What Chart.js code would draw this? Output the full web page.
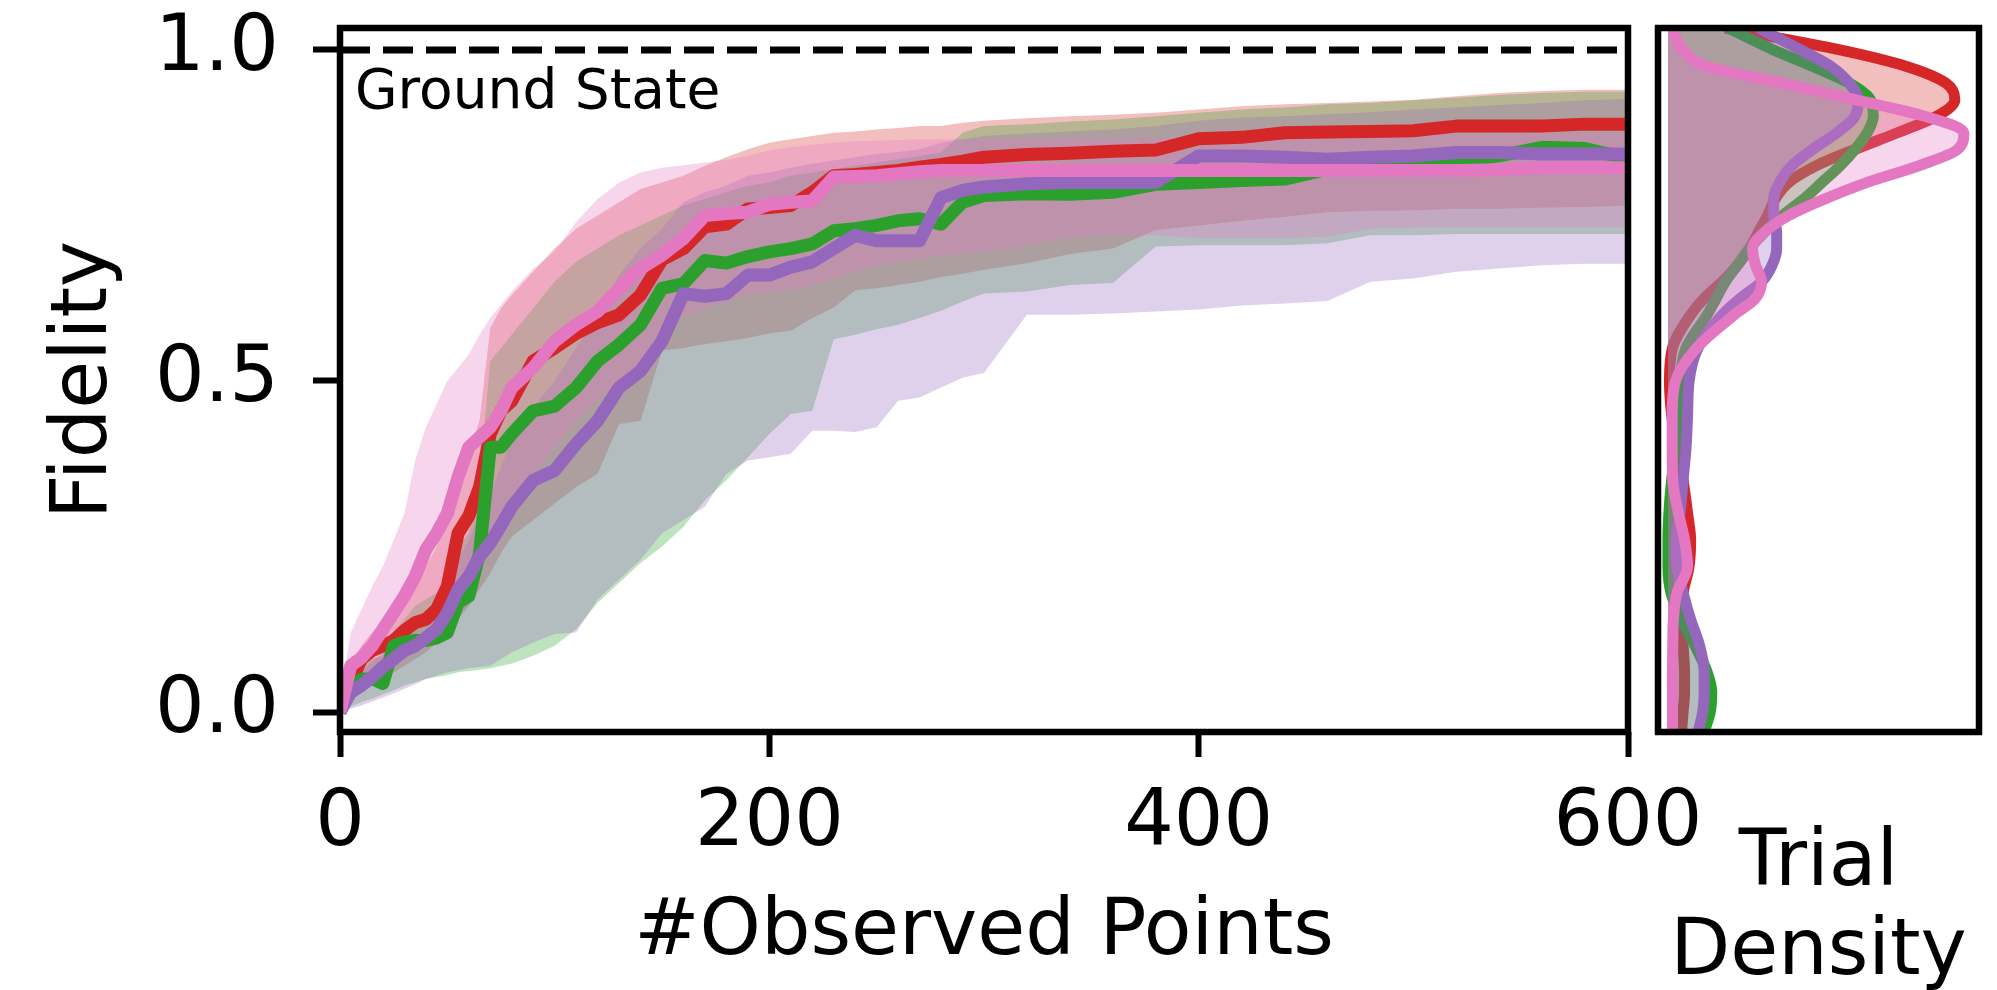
<!DOCTYPE html>
<html>
<head>
<meta charset="utf-8">
<script src="https://cdn.jsdelivr.net/npm/chart.js@4.4.1/dist/chart.umd.min.js"></script>
<style>
  html, body { margin: 0; padding: 0; background: #fff; overflow: hidden; }
  #wrap { position: relative; width: 1997px; height: 990px; }
  canvas { position: absolute; top: 0; }
  #mainChart { left: 0; }
  #sideChart { left: 1645px; }
</style>
</head>
<body>
<div id="wrap">
  <canvas id="mainChart" width="1997" height="990"></canvas>
  <canvas id="sideChart" width="352" height="990"></canvas>
</div>
<script>
// number of observed points
const xs = [0, 5, 10, 15, 20, 25, 30, 35, 40, 45, 50, 55, 60, 65, 70, 75, 80,
  90, 100, 110, 120, 130, 140, 150, 160, 170, 180, 190, 200, 210, 220, 230, 240, 250, 260, 270, 280, 290, 300,
  320, 340, 360, 380, 400, 420, 440, 460, 480, 500, 520, 540, 560, 580, 600];

// mean fidelity curves
const redMean = [0.0, 0.045, 0.08, 0.093, 0.10, 0.108, 0.123, 0.135, 0.14, 0.155, 0.19, 0.27, 0.296, 0.34, 0.42, 0.455, 0.47,
  0.53, 0.55, 0.572, 0.588, 0.60, 0.63, 0.683, 0.70, 0.733, 0.737, 0.76, 0.762, 0.765, 0.785, 0.81, 0.812, 0.815, 0.818, 0.823, 0.827, 0.832, 0.838,
  0.842, 0.844, 0.847, 0.849, 0.866, 0.868, 0.875, 0.876, 0.877, 0.878, 0.885, 0.885, 0.885, 0.888, 0.888];
const greenMean = [0.0, 0.035, 0.05, 0.05, 0.043, 0.10, 0.106, 0.108, 0.108, 0.112, 0.12, 0.165, 0.175, 0.24, 0.40, 0.40, 0.42,
  0.455, 0.462, 0.49, 0.53, 0.555, 0.585, 0.64, 0.647, 0.682, 0.678, 0.688, 0.695, 0.70, 0.707, 0.727, 0.73, 0.735, 0.742, 0.745, 0.737, 0.77, 0.78,
  0.783, 0.782, 0.785, 0.797, 0.80, 0.803, 0.805, 0.82, 0.828, 0.83, 0.832, 0.84, 0.853, 0.851, 0.836];
const purpleMean = [0.0, 0.03, 0.04, 0.053, 0.068, 0.08, 0.093, 0.10, 0.112, 0.125, 0.15, 0.185, 0.205, 0.235, 0.255, 0.282, 0.31,
  0.35, 0.365, 0.405, 0.44, 0.49, 0.515, 0.56, 0.632, 0.628, 0.632, 0.66, 0.66, 0.672, 0.68, 0.70, 0.72, 0.712, 0.712, 0.712, 0.777, 0.788, 0.793,
  0.798, 0.80, 0.80, 0.80, 0.84, 0.84, 0.838, 0.835, 0.838, 0.84, 0.845, 0.845, 0.843, 0.843, 0.843];
const pinkMean = [0.0, 0.07, 0.082, 0.10, 0.125, 0.15, 0.175, 0.205, 0.245, 0.27, 0.30, 0.355, 0.40, 0.415, 0.43, 0.455, 0.49,
  0.52, 0.56, 0.585, 0.605, 0.64, 0.67, 0.69, 0.715, 0.75, 0.753, 0.755, 0.767, 0.77, 0.772, 0.808, 0.809, 0.81, 0.813, 0.816, 0.818, 0.818, 0.818,
  0.818, 0.818, 0.818, 0.818, 0.818, 0.818, 0.818, 0.818, 0.818, 0.818, 0.818, 0.819, 0.822, 0.822, 0.822];

// shaded bands (lower / upper)
const redLow = [0.0, 0.015, 0.03, 0.04, 0.05, 0.06, 0.07, 0.08, 0.09, 0.105, 0.12, 0.14, 0.16, 0.185, 0.21, 0.24, 0.265,
  0.29, 0.315, 0.34, 0.36, 0.435, 0.44, 0.546, 0.55, 0.556, 0.56, 0.565, 0.572, 0.576, 0.595, 0.611, 0.637, 0.64, 0.645, 0.65, 0.657, 0.662, 0.668,
  0.678, 0.692, 0.70, 0.728, 0.735, 0.742, 0.748, 0.755, 0.757, 0.758, 0.76, 0.76, 0.762, 0.763, 0.765];
const redHigh = [0.01, 0.07, 0.10, 0.12, 0.14, 0.16, 0.18, 0.20, 0.22, 0.25, 0.29, 0.34, 0.39, 0.44, 0.58, 0.61, 0.63,
  0.665, 0.70, 0.73, 0.75, 0.77, 0.79, 0.80, 0.81, 0.825, 0.838, 0.85, 0.86, 0.865, 0.87, 0.875, 0.877, 0.88, 0.882, 0.885, 0.885, 0.89, 0.893,
  0.897, 0.90, 0.902, 0.905, 0.91, 0.915, 0.918, 0.92, 0.922, 0.925, 0.93, 0.935, 0.938, 0.94, 0.94];
const greenLow = [0.0, 0.008, 0.015, 0.02, 0.027, 0.033, 0.04, 0.045, 0.05, 0.053, 0.056, 0.06, 0.062, 0.064, 0.066, 0.07, 0.073,
  0.085, 0.10, 0.125, 0.165, 0.195, 0.225, 0.25, 0.28, 0.32, 0.35, 0.385, 0.42, 0.45, 0.455, 0.563, 0.57, 0.578, 0.585, 0.595, 0.606, 0.62, 0.632,
  0.635, 0.645, 0.648, 0.703, 0.705, 0.705, 0.705, 0.708, 0.72, 0.72, 0.722, 0.722, 0.722, 0.722, 0.722];
const greenHigh = [0.005, 0.05, 0.07, 0.08, 0.085, 0.12, 0.14, 0.16, 0.17, 0.18, 0.20, 0.25, 0.27, 0.35, 0.53, 0.55, 0.57,
  0.61, 0.65, 0.68, 0.70, 0.72, 0.735, 0.75, 0.765, 0.775, 0.785, 0.795, 0.80, 0.81, 0.815, 0.82, 0.825, 0.83, 0.835, 0.84, 0.845, 0.875, 0.885,
  0.888, 0.892, 0.895, 0.90, 0.905, 0.91, 0.913, 0.918, 0.92, 0.924, 0.928, 0.932, 0.935, 0.937, 0.937];
const purpleLow = [0.0, 0.005, 0.01, 0.016, 0.022, 0.028, 0.035, 0.042, 0.05, 0.055, 0.06, 0.063, 0.066, 0.068, 0.07, 0.08, 0.09,
  0.105, 0.118, 0.12, 0.17, 0.20, 0.23, 0.27, 0.29, 0.31, 0.36, 0.38, 0.385, 0.39, 0.425, 0.425, 0.423, 0.43, 0.47, 0.475, 0.49, 0.505, 0.512,
  0.60, 0.60, 0.602, 0.605, 0.608, 0.614, 0.617, 0.621, 0.65, 0.655, 0.665, 0.67, 0.675, 0.677, 0.677];
const purpleHigh = [0.005, 0.045, 0.06, 0.075, 0.09, 0.10, 0.12, 0.13, 0.145, 0.16, 0.19, 0.23, 0.26, 0.30, 0.33, 0.37, 0.41,
  0.46, 0.50, 0.55, 0.60, 0.66, 0.70, 0.73, 0.77, 0.785, 0.795, 0.81, 0.815, 0.822, 0.828, 0.833, 0.838, 0.843, 0.846, 0.85, 0.86, 0.865, 0.87,
  0.874, 0.877, 0.88, 0.885, 0.893, 0.898, 0.90, 0.903, 0.906, 0.91, 0.913, 0.917, 0.92, 0.924, 0.926];
const pinkLow = [0.0, 0.03, 0.05, 0.065, 0.08, 0.095, 0.11, 0.125, 0.14, 0.155, 0.17, 0.185, 0.20, 0.23, 0.26, 0.29, 0.32,
  0.36, 0.40, 0.44, 0.47, 0.50, 0.53, 0.56, 0.60, 0.61, 0.62, 0.63, 0.634, 0.637, 0.645, 0.655, 0.665, 0.675, 0.68, 0.685, 0.69, 0.692, 0.695,
  0.705, 0.718, 0.72, 0.72, 0.716, 0.716, 0.716, 0.718, 0.73, 0.732, 0.732, 0.732, 0.732, 0.732, 0.732];
const pinkHigh = [0.02, 0.12, 0.155, 0.19, 0.22, 0.26, 0.30, 0.38, 0.43, 0.465, 0.50, 0.52, 0.54, 0.57, 0.595, 0.615, 0.635,
  0.67, 0.695, 0.74, 0.775, 0.80, 0.815, 0.822, 0.826, 0.83, 0.834, 0.84, 0.848, 0.853, 0.857, 0.86, 0.862, 0.863, 0.864, 0.865, 0.865, 0.865, 0.865,
  0.866, 0.866, 0.866, 0.867, 0.868, 0.869, 0.87, 0.87, 0.871, 0.872, 0.873, 0.874, 0.875, 0.875, 0.875];

// side panel: trial density over fidelity
const fidelityGrid = [-0.03, 0, 0.03, 0.06, 0.1, 0.14, 0.18, 0.22, 0.26, 0.3, 0.35, 0.4, 0.45, 0.5, 0.55, 0.6,
  0.625, 0.65, 0.675, 0.7, 0.725, 0.75, 0.775, 0.8, 0.825, 0.85, 0.875, 0.9, 0.925, 0.95, 0.975, 1.0, 1.033];
const redDensity = [0.045, 0.05, 0.055, 0.055, 0.05, 0.045, 0.05, 0.07, 0.075, 0.065, 0.05, 0.03, 0.012, 0.005, 0.015, 0.075,
  0.12, 0.18, 0.23, 0.27, 0.30, 0.33, 0.355, 0.40, 0.49, 0.62, 0.76, 0.89, 0.95, 0.92, 0.79, 0.57, 0.19];
const greenDensity = [0.12, 0.14, 0.145, 0.13, 0.09, 0.045, 0.01, 0.0, 0.0, 0.003, 0.012, 0.025, 0.035, 0.04, 0.06, 0.13,
  0.16, 0.19, 0.23, 0.27, 0.32, 0.38, 0.45, 0.51, 0.57, 0.62, 0.66, 0.68, 0.67, 0.60, 0.48, 0.35, 0.2];
const purpleDensity = [0.10, 0.115, 0.12, 0.12, 0.105, 0.075, 0.05, 0.03, 0.027, 0.04, 0.05, 0.06, 0.065, 0.07, 0.10, 0.18,
  0.24, 0.31, 0.345, 0.36, 0.36, 0.35, 0.35, 0.37, 0.41, 0.48, 0.56, 0.62, 0.63, 0.60, 0.54, 0.44, 0.30];
const pinkDensity = [0.015, 0.015, 0.015, 0.015, 0.016, 0.018, 0.03, 0.065, 0.055, 0.035, 0.016, 0.014, 0.014, 0.025, 0.095, 0.22,
  0.29, 0.31, 0.29, 0.28, 0.32, 0.40, 0.52, 0.66, 0.83, 0.96, 0.98, 0.85, 0.62, 0.38, 0.13, 0.05, 0.015];

const xTicks = [0, 200, 400, 600];
const yTicks = [0, 0.5, 1.0];
const groundState = 1.0;

const FONT = "'DejaVu Sans', sans-serif";
const Y_MIN = -0.0302, Y_MAX = 1.0332;
const COLORS = { red: '#d62728', green: '#2ca02c', purple: '#9467bd', pink: '#e377c2' };

function withAlpha(hex, a) {
  const n = parseInt(hex.slice(1), 16);
  return `rgba(${n >> 16}, ${(n >> 8) & 255}, ${n & 255}, ${a})`;
}

// box around the plot area + optional note in the corner
const framePlugin = {
  id: 'frame',
  afterDraw(chart, args, opts) {
    const { ctx, chartArea: a } = chart;
    ctx.save();
    ctx.strokeStyle = '#000';
    ctx.lineWidth = 6.5;
    ctx.strokeRect(a.left, a.top, a.right - a.left, a.bottom - a.top);
    if (opts.note) {
      ctx.font = `55px ${FONT}`;
      ctx.fillStyle = '#000';
      ctx.textBaseline = 'alphabetic';
      ctx.fillText(opts.note, a.left + 15, a.top + 80);
    }
    ctx.restore();
  }
};

// series in matplotlib drawing order (first = bottom)
const series = [
  { color: COLORS.red, mean: redMean, low: redLow, high: redHigh, density: redDensity },
  { color: COLORS.green, mean: greenMean, low: greenLow, high: greenHigh, density: greenDensity },
  { color: COLORS.purple, mean: purpleMean, low: purpleLow, high: purpleHigh, density: purpleDensity },
  { color: COLORS.pink, mean: pinkMean, low: pinkLow, high: pinkHigh, density: pinkDensity }
];
const topFirst = series.slice().reverse(); // chart.js paints dataset 0 last

const pts = (ys) => xs.map((x, i) => ({ x, y: ys[i] }));

const mainSets = [{
  data: [{ x: xTicks[0], y: groundState }, { x: xTicks[xTicks.length - 1], y: groundState }],
  borderColor: '#000', borderWidth: 7, borderDash: [30, 13], pointRadius: 0, fill: false
}];
topFirst.forEach(s => mainSets.push({
  data: pts(s.mean), borderColor: s.color, borderWidth: 13, pointRadius: 0, fill: false,
  borderJoinStyle: 'round', tension: 0
}));
topFirst.forEach(s => {
  mainSets.push({ data: pts(s.high), borderWidth: 0, pointRadius: 0, backgroundColor: withAlpha(s.color, 0.3), fill: '+1' });
  mainSets.push({ data: pts(s.low), borderWidth: 0, pointRadius: 0, fill: false });
});

const tickGrid = (len) => ({ display: true, drawOnChartArea: false, drawTicks: true, tickLength: len, tickWidth: 6, tickColor: '#000' });
const bigFont = { family: FONT, size: 78 };

new Chart(document.getElementById('mainChart'), {
  type: 'line',
  data: { datasets: mainSets },
  plugins: [framePlugin],
  options: {
    responsive: false, animation: false, events: [],
    layout: { padding: { top: 28, right: 369, left: 0, bottom: 0 } },
    plugins: { legend: { display: false }, tooltip: { enabled: false }, frame: { note: 'Ground State' } },
    scales: {
      x: {
        type: 'linear', min: 0, max: 600,
        afterBuildTicks: s => { s.ticks = xTicks.map(v => ({ value: v })); },
        afterFit: s => { s.height = 258; s.paddingLeft = 0; s.paddingRight = 0; },
        grid: tickGrid(25), border: { display: false },
        ticks: { font: bigFont, color: '#000', padding: 21, maxRotation: 0, autoSkip: false, callback: v => String(v) },
        title: { display: true, text: '#Observed Points', font: bigFont, color: '#000', padding: { top: 0, bottom: 9 } }
      },
      y: {
        type: 'linear', min: Y_MIN, max: Y_MAX,
        afterBuildTicks: s => { s.ticks = yTicks.map(v => ({ value: v })); },
        afterFit: s => { s.width = 340; s.paddingTop = 0; s.paddingBottom = 0; },
        grid: tickGrid(27), border: { display: false },
        ticks: { font: bigFont, color: '#000', padding: 34, callback: v => v.toFixed(1) },
        title: { display: true, text: 'Fidelity', font: bigFont, color: '#000', padding: { top: 39, bottom: 0 } }
      }
    }
  }
});

const sideSets = topFirst.map(s => ({
  data: fidelityGrid.map((f, i) => ({ x: s.density[i], y: f })),
  borderColor: s.color, borderWidth: 11, pointRadius: 0,
  backgroundColor: withAlpha(s.color, 0.3), fill: 'origin',
  cubicInterpolationMode: 'monotone'
}));

new Chart(document.getElementById('sideChart'), {
  type: 'line',
  data: { datasets: sideSets },
  plugins: [framePlugin],
  options: {
    indexAxis: 'y',
    responsive: false, animation: false, events: [],
    layout: { padding: { top: 28, right: 18, left: 13, bottom: 0 } },
    plugins: { legend: { display: false }, tooltip: { enabled: false }, frame: {} },
    scales: {
      x: {
        type: 'linear', min: -0.033, max: 1.03,
        afterFit: s => { s.height = 258; s.paddingLeft = 0; s.paddingRight = 0; },
        grid: { display: false }, border: { display: false }, ticks: { display: false },
        title: { display: true, text: ['Trial', 'Density'], font: { family: FONT, size: 78, lineHeight: 1.15 }, color: '#000', padding: { top: 0, bottom: -9 } }
      },
      y: { type: 'linear', min: Y_MIN, max: Y_MAX, display: false }
    }
  }
});
</script>
</body>
</html>
